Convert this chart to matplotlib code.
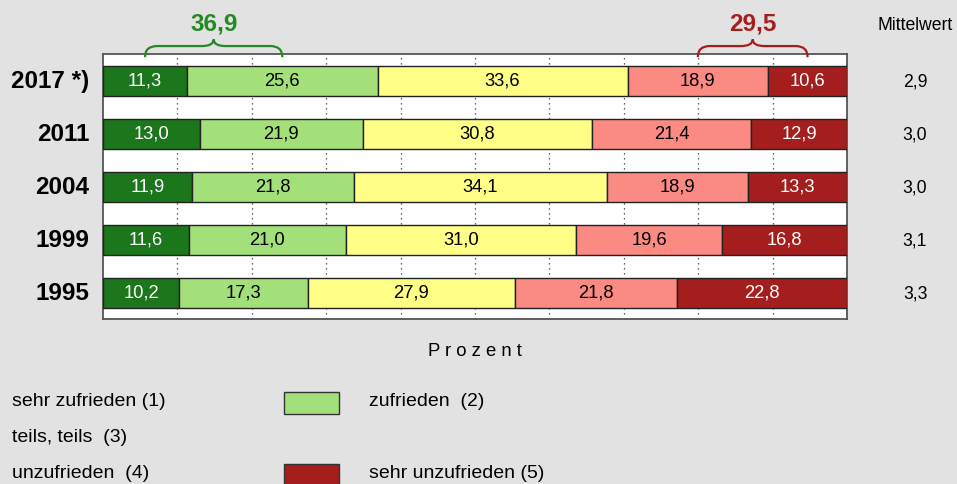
import matplotlib
matplotlib.use("Agg")
import matplotlib.pyplot as plt
from matplotlib.path import Path
from matplotlib.patches import PathPatch, Rectangle
import matplotlib.transforms as mtransforms
import numpy as np

plt.rcParams['font.family'] = ['Liberation Sans', 'DejaVu Sans']

years = ["2017 *)", "2011", "2004", "1999", "1995"]
sehr_zufrieden = [11.3, 13.0, 11.9, 11.6, 10.2]
zufrieden = [25.6, 21.9, 21.8, 21.0, 17.3]
teils = [33.6, 30.8, 34.1, 31.0, 27.9]
unzufrieden = [18.9, 21.4, 18.9, 19.6, 21.8]
sehr_unzufrieden = [10.6, 12.9, 13.3, 16.8, 22.8]
mittelwert = ["2,9", "3,0", "3,0", "3,1", "3,3"]
top_positive = "36,9"
top_negative = "29,5"

series = [sehr_zufrieden, zufrieden, teils, unzufrieden, sehr_unzufrieden]
colors = ["#1c761c", "#a3e07a", "#ffff88", "#fa8a82", "#a51e1e"]
text_colors = ["white", "black", "black", "black", "white"]
legend_labels = ["sehr zufrieden (1)", "zufrieden  (2)", "teils, teils  (3)",
                 "unzufrieden  (4)", "sehr unzufrieden (5)"]

W, H = 957, 484
BG = "#e2e2e2"
fig = plt.figure(figsize=(W / 100, H / 100), dpi=100, facecolor=BG)

def fx(x):
    return x / W

def fy(y):
    return 1 - y / H

ax_l, ax_r, ax_t, ax_b = 103, 847, 54, 319
ax = fig.add_axes([fx(ax_l), fy(ax_b), (ax_r - ax_l) / W, (ax_b - ax_t) / H])
ax.set_facecolor("white")
ax.set_xlim(0, 100)
ax.set_ylim(-0.49, 4.51)
ypos = np.arange(len(years))[::-1]

left = np.zeros(len(years))
for s, vals in enumerate(series):
    vals = np.array(vals)
    ax.barh(ypos, vals, left=left, height=0.57, color=colors[s],
            edgecolor="#222222", linewidth=1.0, zorder=3)
    for i, v in enumerate(vals):
        ax.text(left[i] + v / 2, ypos[i], f"{v:.1f}".replace(".", ","),
                ha="center", va="center", fontsize=13.2, color=text_colors[s],
                zorder=4)
    left += vals

for gx in range(10, 100, 10):
    ax.axvline(gx, color="#333333", linestyle=(0, (1, 3)), linewidth=0.9, zorder=1)

ax.set_xticks([])
ax.set_yticks([])
for sp in ax.spines.values():
    sp.set_color("#555555")
    sp.set_linewidth(1.3)

# year labels
for i, yl in enumerate(years):
    ax.text(-1.8, ypos[i], yl, ha="right", va="center", fontsize=17.5,
            fontweight="bold", transform=ax.transData, clip_on=False)

# mittelwert
fig.text(fx(915), fy(26), "Mittelwert", ha="center", va="center", fontsize=12.7)
trans_mw = mtransforms.blended_transform_factory(fig.transFigure, ax.transData)
for i, m in enumerate(mittelwert):
    ax.text(fx(915), ypos[i] - 0.02, m, ha="center", va="center",
            fontsize=12.7, transform=trans_mw, clip_on=False)

# braces
def brace(x0, x1, color, label):
    tr = mtransforms.blended_transform_factory(ax.transData, ax.transAxes)
    yb, ym, yt = 0.988, 1.030, 1.055
    r = 1.6
    xm = (x0 + x1) / 2
    verts = [(x0, yb), (x0, ym), (x0 + r, ym),
             (xm - r, ym), (xm, ym), (xm, yt),
             (xm, ym), (xm + r, ym),
             (x1 - r, ym), (x1, ym), (x1, yb)]
    codes = [Path.MOVETO, Path.CURVE3, Path.CURVE3,
             Path.LINETO, Path.CURVE3, Path.CURVE3,
             Path.CURVE3, Path.CURVE3,
             Path.LINETO, Path.CURVE3, Path.CURVE3]
    p = PathPatch(Path(verts, codes), facecolor="none", edgecolor=color,
                  linewidth=1.6, transform=tr, clip_on=False, zorder=5)
    ax.add_patch(p)
    ax.text(xm, 1.115, label, ha="center", va="center", fontsize=17.5,
            fontweight="bold", color=color, transform=tr, clip_on=False)

b0 = sehr_zufrieden[0] / 2
b1 = sehr_zufrieden[0] + zufrieden[0] / 2
brace(b0, b1, "#238a23", top_positive)
tot3 = sehr_zufrieden[0] + zufrieden[0] + teils[0]
r0 = tot3 + unzufrieden[0] / 2
r1 = tot3 + unzufrieden[0] + sehr_unzufrieden[0] / 2
brace(r0, r1, "#a51e1e", top_negative)

# x label
fig.text(fx(475), fy(352), "P r o z e n t", ha="center", va="center", fontsize=13.3)

# legend (reproduced as shown)
LFS = 14
fig.text(fx(12), fy(402), legend_labels[0], ha="left", va="center", fontsize=LFS)
fig.text(fx(12), fy(437), legend_labels[2], ha="left", va="center", fontsize=LFS)
fig.text(fx(12), fy(473), legend_labels[3], ha="left", va="center", fontsize=LFS)
fig.text(fx(369), fy(402), legend_labels[1], ha="left", va="center", fontsize=LFS)
fig.text(fx(369), fy(473), legend_labels[4], ha="left", va="center", fontsize=LFS)
fig.patches.append(Rectangle((fx(284), fy(414)), 55 / W, 22 / H, transform=fig.transFigure,
                             facecolor=colors[1], edgecolor="#333333", linewidth=1.0))
fig.patches.append(Rectangle((fx(284), fy(486)), 55 / W, 22 / H, transform=fig.transFigure,
                             facecolor=colors[4], edgecolor="#333333", linewidth=1.0))

fig.savefig("out.png", dpi=100, facecolor=BG)
